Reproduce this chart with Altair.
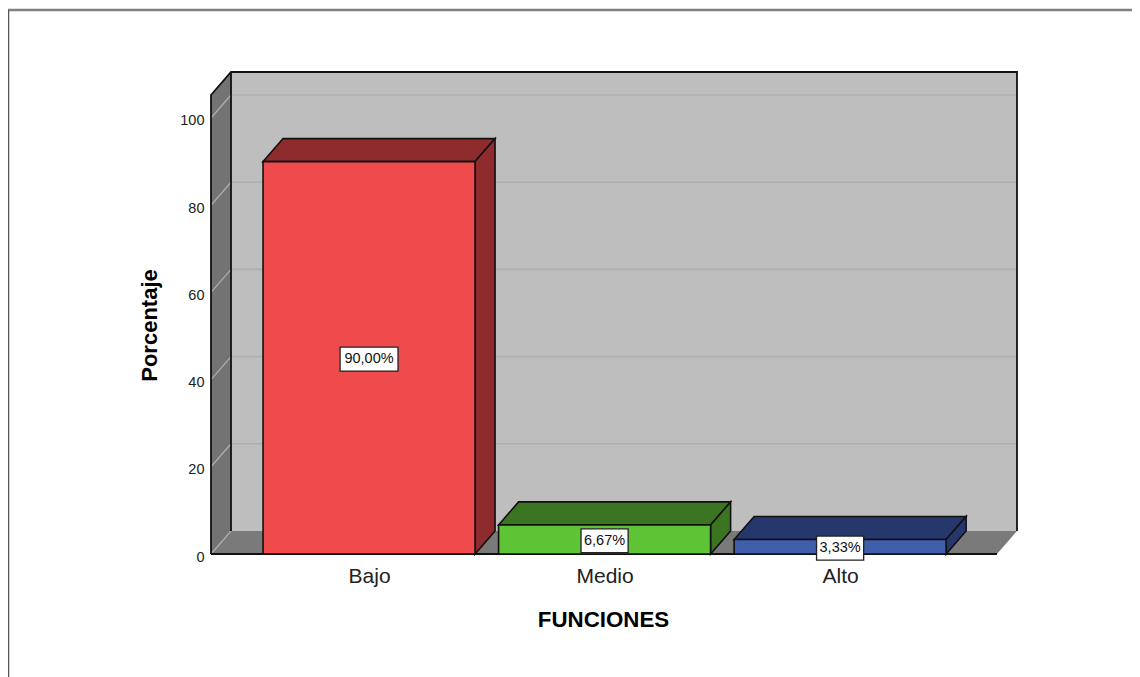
import json
import altair as alt
import pandas as pd

categories = ["Bajo", "Medio", "Alto"]
values = [90.00, 6.67, 3.33]
value_labels = ["90,00%", "6,67%", "3,33%"]
face_colors = ["#EF4B4D", "#5EC435", "#3F5EAB"]
side_colors = ["#8E2B2D", "#3C7522", "#26376B"]
y_ticks = [0, 20, 40, 60, 80, 100]

# axis scales: one x unit is one category slot, y is percent
X_MIN, X_MAX = -0.671, 2.751
Y_MAX = 110.55
DX, DY = 0.085, 5.275          # depth of the 3D projection in scale units
HALF = 0.45                    # half a bar
WALL_TOP = Y_MAX - DY
FLOOR_R = X_MAX - DX
FONT = "Liberation Sans"

xs = alt.Scale(domain=[X_MIN, X_MAX], nice=False, zero=False)
ys = alt.Scale(domain=[0, Y_MAX], nice=False, zero=False)

label_expr = "%s[datum.value]" % json.dumps(categories)
x_axis = alt.Axis(
    values=[0, 1, 2], labelExpr=label_expr, title="FUNCIONES", grid=False,
    domain=False, ticks=False, labelFont=FONT, labelFontSize=21,
    labelColor="#222222", labelPadding=11, labelFlush=False, labelOverlap=False,
    titleFont=FONT, titleFontSize=22.3, titleFontWeight="bold", titleColor="#000000",
    titleX=392, titleY=65, titleAlign="center", titleBaseline="middle")
y_axis = alt.Axis(
    values=y_ticks, title="Porcentaje", grid=False, domain=False, ticks=False,
    labelFont=FONT, labelFontSize=14.5, labelColor="#222222", labelPadding=7,
    labelOffset=3, labelFlush=False, labelOverlap=False,
    titleFont=FONT, titleFontSize=22, titleFontWeight="bold", titleColor="#000000",
    titleX=-62, titleY=253, titleAlign="center", titleBaseline="middle")


def X(**kw):
    return alt.X("x:Q", scale=xs, axis=x_axis, **kw)


def Y(**kw):
    return alt.Y("y:Q", scale=ys, axis=y_axis, **kw)


def area(points, color, stroke=None):
    df = pd.DataFrame(points, columns=["x", "y", "y2"])
    args = dict(color=color, opacity=1, orient="vertical")
    if stroke:
        args.update(stroke=stroke, strokeWidth=1.6)
    return alt.Chart(df).mark_area(**args).encode(
        x=X(), y=Y(), y2="y2:Q")


def polyline(points, color, width=1.8):
    df = pd.DataFrame(points, columns=["x", "y"])
    df["o"] = range(len(df))
    return alt.Chart(df).mark_line(color=color, strokeWidth=width).encode(
        x=X(), y=Y(), order="o:Q")


def rect(x0, x1, y0, y1, color, stroke=None, sw=1.6):
    df = pd.DataFrame([{"x": x0, "x2": x1, "y": y0, "y2": y1}])
    args = dict(color=color, opacity=1)
    if stroke:
        args.update(stroke=stroke, strokeWidth=sw)
    return alt.Chart(df).mark_rect(**args).encode(
        x=X(), x2="x2:Q", y=Y(), y2="y2:Q")


layers = []

# walls and floor
layers.append(area([[X_MIN, WALL_TOP, 0], [X_MIN + DX, Y_MAX, DY]], "#737373"))
layers.append(rect(X_MIN + DX, X_MAX, DY, Y_MAX, "#BEBEBE"))
layers.append(area([[X_MIN, 0, 0], [X_MIN + DX, DY, 0], [FLOOR_R, DY, 0], [X_MAX, DY, DY]], "#7A7A7A"))

# gridlines
for v in y_ticks:
    layers.append(polyline([[X_MIN, v], [X_MIN + DX, v + DY]], "#ADADAD", 1.3))
    if v > 0:
        layers.append(polyline([[X_MIN + DX, v + DY], [X_MAX, v + DY]], "#AEAEAE", 1.6))

# outline of the box
layers.append(polyline([[X_MIN, 0], [X_MIN, WALL_TOP], [X_MIN + DX, Y_MAX], [X_MAX, Y_MAX], [X_MAX, DY]], "#111111"))
layers.append(polyline([[X_MIN + DX, Y_MAX], [X_MIN + DX, DY]], "#111111"))
layers.append(polyline([[X_MIN, 0], [FLOOR_R, 0]], "#111111"))

# bars
for i, v in enumerate(values):
    l, r = i - HALF, i + HALF
    layers.append(area([[l, v, v], [l + DX, v + DY, v], [r, v + DY, v], [r + DX, v + DY, v + DY]],
                       side_colors[i], "#111111"))
    layers.append(area([[r, v, 0], [r + DX, v + DY, DY]], side_colors[i], "#111111"))
    layers.append(rect(l, r, 0, v, face_colors[i], "#111111"))

# value labels
for i, v in enumerate(values):
    half_w = (0.123 if i == 0 else 0.1)
    mid = v / 2 - 0.3
    layers.append(rect(i - half_w, i + half_w, mid - 2.75, mid + 2.75, "#FFFFFF", "#222222", 1.3))
    layers.append(
        alt.Chart(pd.DataFrame([{"x": i, "y": mid, "t": value_labels[i]}]))
        .mark_text(font=FONT, fontSize=14.5, color="#111111", align="center", baseline="middle")
        .encode(x=X(), y=Y(), text="t:N"))

# outer frame of the picture
anchor = pd.DataFrame({"x": [0]})
layers.append(alt.Chart(anchor).mark_rule(color="#808080", strokeWidth=2.4).encode(
    x=alt.value(-203), x2=alt.value(921), y=alt.value(-62)))
layers.append(alt.Chart(anchor).mark_rule(color="#555555", strokeWidth=1.5).encode(
    x=alt.value(-202.5), y=alt.value(-62), y2=alt.value(605)))

chart = alt.layer(*layers).properties(
    width=806, height=482,
    autosize=alt.AutoSizeParams(type="none"),
    padding={"left": 203, "top": 64, "right": 115, "bottom": 123},
    background="#FFFFFF",
).configure_view(stroke=None)

chart.save("out.html", embed_options={"renderer": "svg", "actions": False})
